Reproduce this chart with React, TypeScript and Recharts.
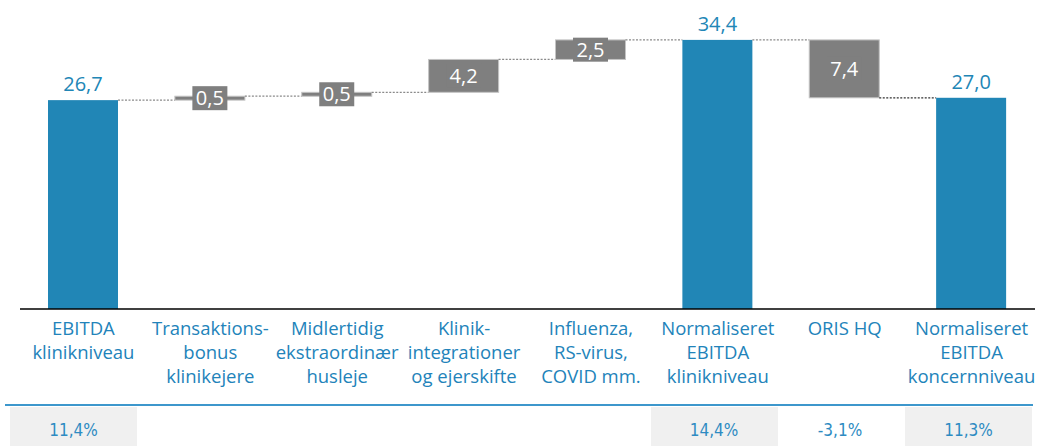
import React from 'react';
import { BarChart, Bar, XAxis, YAxis } from 'recharts';

const categories = [
  'EBITDA\nklinikniveau',
  'Transaktions-\nbonus\nklinikejere',
  'Midlertidig\nekstraordinær\nhusleje',
  'Klinik-\nintegrationer\nog ejerskifte',
  'Influenza,\nRS-virus,\nCOVID mm.',
  'Normaliseret\nEBITDA\nklinikniveau',
  'ORIS HQ',
  'Normaliseret\nEBITDA\nkoncernniveau',
];
const changes = [26.7, 0.5, 0.5, 4.2, 2.5, 34.4, -7.4, 27.0];
const isTotal = [true, false, false, false, false, true, false, true];
const valueLabels = ['26,7', '0,5', '0,5', '4,2', '2,5', '34,4', '7,4', '27,0'];
const marginLabels = ['11,4%', '', '', '', '', '14,4%', '-3,1%', '11,3%'];

// layout
const W = 1038;
const H = 446;
const CHART_H = 400;
const M = { top: 0, right: 3, bottom: 0, left: 20 };
const AXIS_H = 91;
const BAR_W = 70;
const BAND = (W - M.left - M.right) / categories.length;
const tableCenters = [73.5, 201, 329, 457, 585, 714, 840, 968.5];

const BLUE = '#2186b6';
const GRAY = '#7f7f7f';
const FONT = "'Open Sans', sans-serif";

// waterfall: invisible base + visible part
let running = 0;
const data = categories.map((name, i) => {
  const c = changes[i];
  let base = 0;
  let value = c;
  if (isTotal[i]) {
    running = c;
  } else if (c >= 0) {
    base = running;
    running += c;
  } else {
    running += c;
    base = running;
    value = -c;
  }
  return { name, base, value, change: c, total: isTotal[i], label: valueLabels[i] };
});

const WaterfallShape = (props: any) => {
  const { x, y, width, height, payload, index } = props;
  const cx = x + width / 2;
  const last = index === data.length - 1;
  const levelY = payload.change >= 0 ? y : y + height;
  return (
    <g>
      <rect x={x} y={y} width={width} height={Math.max(height, 3)} fill={payload.total ? BLUE : GRAY}
        stroke={payload.total ? 'none' : '#c4c4c4'} strokeWidth={1} />
      {!last && (
        <line x1={x + width} x2={x + BAND} y1={levelY} y2={levelY}
          stroke={index === 6 ? '#333' : '#8a8a8a'} strokeWidth={1.3} strokeDasharray="2 1.5" />
      )}
      {payload.total ? (
        <text x={cx} y={y - 9} textAnchor="middle" fill={BLUE} fontFamily={FONT} fontSize={20}>{payload.label}</text>
      ) : (
        <g>
          <rect x={cx - 17.5} y={y + height / 2 - 12} width={35} height={24} fill={GRAY} />
          <text x={cx} y={y + height / 2 + 7} textAnchor="middle" fill="#fff" fontFamily={FONT} fontSize={20}>{payload.label}</text>
        </g>
      )}
    </g>
  );
};

const CategoryTick = (props: any) => {
  const { x, y, payload } = props;
  const lines = String(payload.value).split('\n');
  return (
    <text x={x} y={y} textAnchor="middle" fill="#2283ba" fontFamily={FONT} fontSize={18.5}>
      {lines.map((l, i) => (
        <tspan key={i} x={x} y={y + 26 + i * 24}>{l}</tspan>
      ))}
    </text>
  );
};

export default function App() {
  return (
    <div style={{ position: 'absolute', left: 0, top: 0, width: W, height: H, background: '#fff', overflow: 'hidden' }}>
      <BarChart width={W} height={CHART_H} data={data} margin={M} barSize={BAR_W}>
        <XAxis dataKey="name" interval={0} height={AXIS_H} tickLine={false} tickSize={0} tickMargin={0}
          axisLine={{ stroke: '#000', strokeWidth: 1.5 }} tick={<CategoryTick />} />
        <YAxis hide domain={[0, 39.5]} allowDataOverflow />
        <Bar dataKey="base" stackId="w" fill="transparent" isAnimationActive={false} />
        <Bar dataKey="value" stackId="w" shape={<WaterfallShape />} isAnimationActive={false} />
      </BarChart>
      <div style={{ position: 'absolute', left: 5, top: 404, width: 1028, height: 2, background: '#3d97cc' }} />
      {marginLabels.map((m, i) => (
        <div key={i} style={{
          position: 'absolute', top: 407, height: 39, left: tableCenters[i] - 63.5, width: 127,
          background: isTotal[i] ? '#f0f0f0' : 'transparent',
          display: 'flex', alignItems: 'center', justifyContent: 'center', paddingTop: 6, boxSizing: 'border-box',
          fontFamily: "'DejaVu Sans Condensed', 'DejaVu Sans', sans-serif", fontStretch: 'condensed',
          fontSize: 17, color: '#2e8bc2',
        }}>{m}</div>
      ))}
    </div>
  );
}
